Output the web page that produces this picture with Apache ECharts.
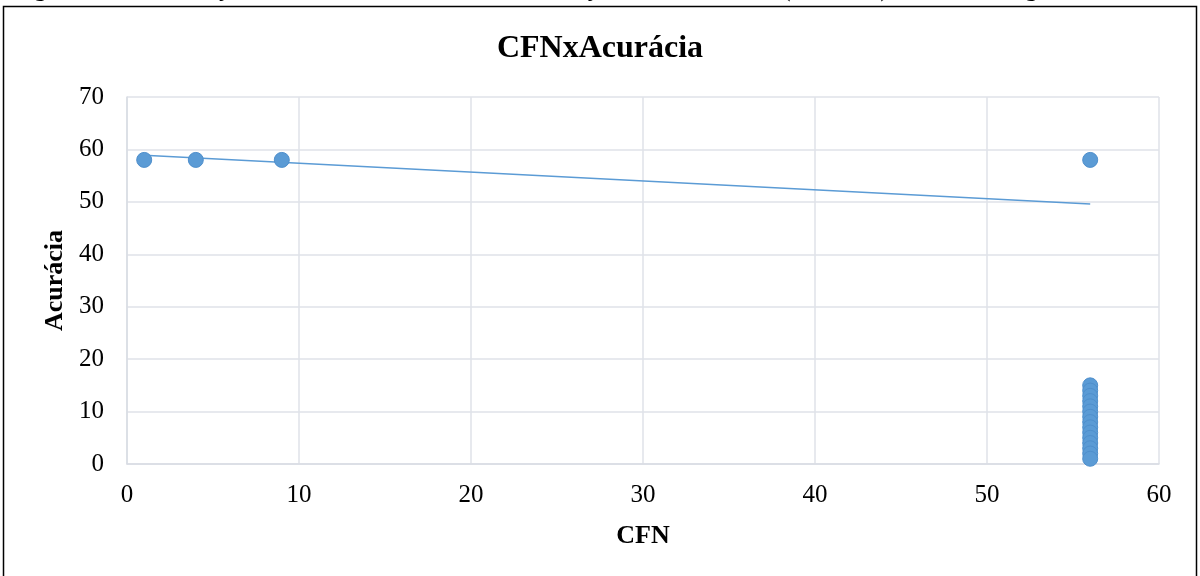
<!DOCTYPE html>
<html>
<head>
<meta charset="utf-8">
<script src="https://cdn.jsdelivr.net/npm/echarts@6/dist/echarts.min.js"></script>
<style>
html,body{margin:0;padding:0;background:#fff;}
#c{width:1200px;height:576px;}
</style>
</head>
<body>
<div id="c"></div>
<script>
const titleText = 'CFNxAcurácia';
const captionText = 'Figura 11 – Correlação entre o número de classes e funções normalizadas (CFN_10) e a acurácia geral';
const xName = 'CFN';
const yName = 'Acurácia';
const cfnValues = [1, 4, 9, 56, 56, 56, 56, 56, 56, 56, 56, 56, 56, 56, 56, 56, 56, 56, 56];
const accValues = [58, 58, 58, 58, 15, 14, 13, 12, 11, 10, 9, 8, 7, 6, 5, 4, 3, 2, 1];
const trendX = [1, 56];
const trendY = [58.9, 49.6];

const points = cfnValues.map((x, i) => [x, accValues[i]]);
const trend = trendX.map((x, i) => [x, trendY[i]]);
const font = '"Liberation Serif", "Times New Roman", serif';

const chart = echarts.init(document.getElementById('c'), null, {renderer: 'canvas'});
chart.setOption({
  animation: false,
  backgroundColor: '#fff',
  title: {
    text: titleText, left: 'center', top: 28,
    textStyle: {fontFamily: font, fontSize: 32, fontWeight: 'bold', color: '#000'}
  },
  grid: {left: 127, right: 41, top: 97, bottom: 112},
  xAxis: {
    type: 'value', min: 0, max: 60, interval: 10,
    name: xName, nameLocation: 'middle', nameGap: 59,
    nameTextStyle: {fontFamily: font, fontSize: 26, fontWeight: 'bold', color: '#000'},
    axisLine: {show: true, lineStyle: {color: '#d9dce3', width: 1.5}},
    axisTick: {show: false},
    axisLabel: {fontFamily: font, fontSize: 25, color: '#000', margin: 19},
    splitLine: {show: true, lineStyle: {color: '#dfe2e8', width: 1.5}}
  },
  yAxis: {
    type: 'value', min: 0, max: 70, interval: 10,
    name: yName, nameLocation: 'middle', nameGap: 56, nameRotate: 90,
    nameTextStyle: {fontFamily: font, fontSize: 26, fontWeight: 'bold', color: '#000'},
    axisLine: {show: true, lineStyle: {color: '#d9dce3', width: 1.5}},
    axisTick: {show: false},
    axisLabel: {fontFamily: font, fontSize: 25, color: '#000', margin: 23},
    splitLine: {show: true, lineStyle: {color: '#dfe2e8', width: 1.5}}
  },
  graphic: [
    {type: 'rect', shape: {x: 3.5, y: 6.5, width: 1193, height: 620},
     style: {fill: 'none', stroke: '#000', lineWidth: 1.5}, silent: true},
    {type: 'text', x: 12, y: 2,
     style: {text: captionText, fontFamily: font, fontSize: 26, fill: '#000', verticalAlign: 'bottom'}}
  ],
  series: [
    {
      type: 'line', data: trend, showSymbol: false, symbol: 'none',
      lineStyle: {color: '#5b9bd5', width: 1.5}, z: 2
    },
    {
      type: 'scatter', data: points, symbolSize: 15,
      itemStyle: {color: '#5b9bd5', borderColor: '#4f8fcc', borderWidth: 1, opacity: 1}, z: 3
    }
  ]
});
</script>
</body>
</html>
